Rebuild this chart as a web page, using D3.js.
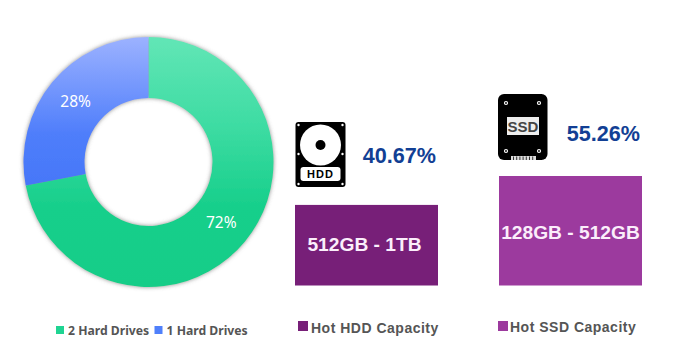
<!DOCTYPE html>
<html>
<head>
<meta charset="utf-8">
<script src="https://cdn.jsdelivr.net/npm/d3@7"></script>
<style>
  body { margin: 0; background: #fff; }
  svg { display: block; }
</style>
</head>
<body>
<div id="chart"></div>
<script>
const driveLabels = ['2 Hard Drives', '1 Hard Drives']
const driveValues = [72, 28]

const hotTitles = ['Hot HDD Capacity', 'Hot SSD Capacity']
const hotRanges = ['512GB - 1TB', '128GB - 512GB']
const hotValues = [40.67, 55.26]

const width = 685
const height = 362

const svg = d3
  .select('#chart')
  .append('svg')
  .attr('width', width)
  .attr('height', height)

const defs = svg.append('defs')

function addGradient(id, stops) {
  const grad = defs
    .append('linearGradient')
    .attr('id', id)
    .attr('x1', 0)
    .attr('y1', 0)
    .attr('x2', 0)
    .attr('y2', 1)
  stops.forEach(s => {
    grad.append('stop').attr('offset', s[0]).attr('stop-color', s[1])
  })
}
addGradient('green', [[0, '#62e6b6'], [0.35, '#3edca3'], [0.68, '#17cf8b'], [1, '#14cd88']])
addGradient('blue', [[0, '#9cb2ff'], [0.65, '#4f7efb'], [1, '#4677f8']])

const shadow = defs
  .append('filter')
  .attr('id', 'shadow')
  .attr('x', '-10%')
  .attr('y', '-10%')
  .attr('width', '120%')
  .attr('height', '120%')
shadow
  .append('feDropShadow')
  .attr('dx', 0)
  .attr('dy', 0)
  .attr('stdDeviation', 2)
  .attr('flood-color', '#666')
  .attr('flood-opacity', 0.75)

// donut
const pie = d3.pie().sort(null)
const arc = d3.arc().innerRadius(64).outerRadius(125)
const colorIds = d3.scaleOrdinal().domain(driveLabels).range(['green', 'blue'])
const solid = d3.scaleOrdinal().domain(driveLabels).range(['#1fd492', '#4f80fb'])

const donut = svg.append('g').attr('transform', 'translate(148.5,162)')
const slices = pie(driveValues)

donut
  .append('g')
  .attr('filter', 'url(#shadow)')
  .selectAll('path')
  .data(slices)
  .enter()
  .append('path')
  .attr('d', arc)
  .attr('fill', (d, i) => 'url(#' + colorIds(driveLabels[i]) + ')')

donut
  .selectAll('.pct')
  .data(slices)
  .enter()
  .append('text')
  .attr('class', 'pct')
  .attr('transform', d => 'translate(' + arc.centroid(d) + ')')
  .attr('text-anchor', 'middle')
  .attr('dy', 5.5)
  .attr('fill', '#fff')
  .attr('font-family', '"Noto Sans"')
  .attr('font-size', '15.5px')
  .text(d => d.value + '%')

// donut legend
const legendX = d3.scaleOrdinal().domain(driveLabels).range([56, 154.5])
const legend = svg
  .selectAll('.legend')
  .data(driveLabels)
  .enter()
  .append('g')
  .attr('class', 'legend')
  .attr('transform', d => 'translate(' + legendX(d) + ',326)')
legend
  .append('rect')
  .attr('width', 8)
  .attr('height', 8)
  .attr('fill', d => solid(d))
legend
  .append('text')
  .attr('x', 12)
  .attr('y', 9)
  .attr('fill', '#555')
  .attr('font-family', '"Noto Sans"')
  .attr('font-weight', 700)
  .attr('font-size', '12.2px')
  .text(d => d)

// capacity bars
const xPositionScale = d3.scaleOrdinal().domain(hotTitles).range([295, 499])
const yPositionScale = d3.scaleLinear().domain([0, 55.26]).range([285.5, 176])
const barColor = d3.scaleOrdinal().domain(hotTitles).range(['#771f78', '#9c3a9e'])
const barWidth = 143

const bars = svg
  .selectAll('.bar')
  .data(hotTitles)
  .enter()
  .append('g')
  .attr('class', 'bar')
  .attr('font-family', '"Liberation Sans"')
  .attr('font-weight', 700)

bars
  .append('rect')
  .attr('x', d => xPositionScale(d))
  .attr('y', (d, i) => yPositionScale(hotValues[i]))
  .attr('width', barWidth)
  .attr('height', (d, i) => yPositionScale(0) - yPositionScale(hotValues[i]))
  .attr('fill', d => barColor(d))

bars
  .append('text')
  .attr('x', (d, i) => xPositionScale(d) + barWidth / 2 - (i === 0 ? 2 : 0))
  .attr('y', (d, i) => yPositionScale(hotValues[i]) + (i === 0 ? 46.5 : 63))
  .attr('text-anchor', 'middle')
  .attr('fill', '#fbeefb')
  .attr('font-size', '19.2px')
  .text((d, i) => hotRanges[i])

bars
  .append('text')
  .attr('x', d => xPositionScale(d) + 141)
  .attr('y', (d, i) => yPositionScale(hotValues[i]) - (i === 0 ? 42 : 35))
  .attr('text-anchor', 'end')
  .attr('fill', '#123f94')
  .attr('font-size', '21.6px')
  .text((d, i) => hotValues[i] + '%')

bars
  .append('rect')
  .attr('x', (d, i) => xPositionScale(d) + (i === 0 ? 3 : -1))
  .attr('y', 321)
  .attr('width', 10)
  .attr('height', 10)
  .attr('fill', d => barColor(d))

bars
  .append('text')
  .attr('x', (d, i) => xPositionScale(d) + (i === 0 ? 16 : 11))
  .attr('y', (d, i) => (i === 0 ? 332.5 : 331.5))
  .attr('fill', '#555')
  .attr('font-size', '14px')
  .attr('letter-spacing', '0.5px')
  .text(d => d)

// hdd icon
const hdd = svg.append('g').attr('transform', 'translate(295.5,122)')
hdd.append('rect').attr('width', 50).attr('height', 65).attr('rx', 3).attr('fill', '#000')
hdd.append('circle').attr('cx', 25).attr('cy', 23).attr('r', 20.5).attr('fill', '#fff')
hdd.append('circle').attr('cx', 25).attr('cy', 23).attr('r', 5).attr('fill', '#000')
hdd.append('rect').attr('x', 5).attr('y', 45).attr('width', 40).attr('height', 14).attr('rx', 3).attr('fill', '#fff')
hdd
  .append('text')
  .attr('x', 25)
  .attr('y', 56.2)
  .attr('text-anchor', 'middle')
  .attr('font-family', '"Liberation Sans"')
  .attr('font-weight', 700)
  .attr('font-size', '11px')
  .attr('letter-spacing', '1px')
  .text('HDD')
hdd
  .selectAll('.screw')
  .data([[3, 3], [47, 3], [47, 32], [3, 32], [3, 62], [47, 62]])
  .enter()
  .append('circle')
  .attr('cx', d => d[0])
  .attr('cy', d => d[1])
  .attr('r', 1.2)
  .attr('fill', '#fff')

// ssd icon
const ssd = svg.append('g').attr('transform', 'translate(498,94)')
ssd.append('rect').attr('width', 49.5).attr('height', 66).attr('rx', 6).attr('fill', '#000')
ssd.append('rect').attr('x', 9).attr('y', 23).attr('width', 32).attr('height', 18).attr('fill', '#eee')
ssd
  .append('text')
  .attr('x', 25)
  .attr('y', 37.8)
  .attr('text-anchor', 'middle')
  .attr('fill', '#444')
  .attr('font-family', '"Liberation Sans"')
  .attr('font-weight', 700)
  .attr('font-size', '15px')
  .text('SSD')
ssd
  .selectAll('.screw')
  .data([[8, 9], [41, 9], [8, 57], [41, 57]])
  .enter()
  .append('circle')
  .attr('cx', d => d[0])
  .attr('cy', d => d[1])
  .attr('r', 1.5)
  .attr('fill', '#000')
  .attr('stroke', '#fff')
  .attr('stroke-width', 1.2)
ssd.append('rect').attr('x', 13).attr('y', 62).attr('width', 25).attr('height', 4).attr('fill', '#ddd')
ssd
  .selectAll('.pin')
  .data(d3.range(7))
  .enter()
  .append('rect')
  .attr('x', d => 15 + d * 3.2)
  .attr('y', 62.5)
  .attr('width', 1)
  .attr('height', 3.5)
  .attr('fill', '#333')
</script>
</body>
</html>
